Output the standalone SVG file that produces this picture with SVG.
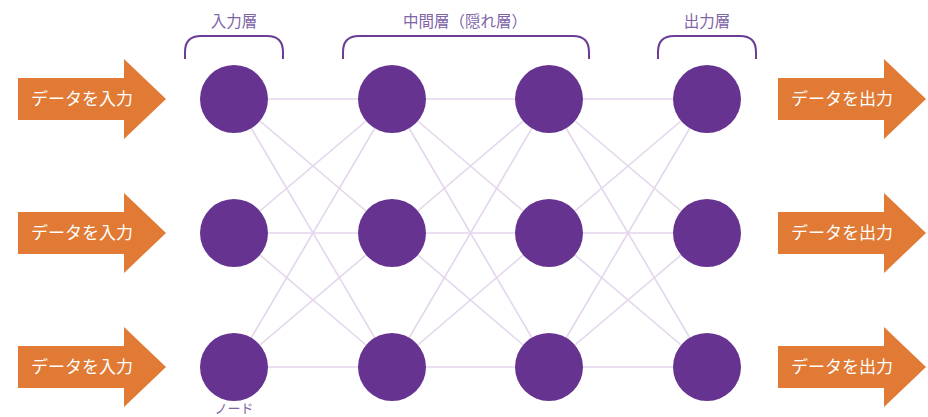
<svg xmlns="http://www.w3.org/2000/svg" width="928" height="417" viewBox="0 0 928 417">
<style>
.arrow{fill:#e07a35}
.atext{fill:#ffffff;font-family:"Noto Sans CJK JP","Noto Sans",sans-serif;font-size:17px;text-anchor:middle}
.node{fill:#663390}
.edge{stroke:#e4d6ec;stroke-width:1.6;fill:none}
.brk{stroke:#6b3d96;stroke-width:2;fill:none}
.lbl{fill:#8064a8;font-family:"Noto Sans CJK JP","Noto Sans",sans-serif;font-size:15.5px;text-anchor:middle}
.nlbl{fill:#8064a8;font-family:"Noto Sans CJK JP","Noto Sans",sans-serif;font-size:13px;text-anchor:middle}
</style>
<defs>
<path id="arr" d="M0,-21 H106 V-40 L148,0 L106,40 V21 H0 Z"/>
</defs>
<g id="connectors">
<g class="edge">
<line x1="234" y1="99" x2="392" y2="99"/><line x1="234" y1="99" x2="392" y2="233"/><line x1="234" y1="99" x2="392" y2="367"/>
<line x1="234" y1="233" x2="392" y2="99"/><line x1="234" y1="233" x2="392" y2="233"/><line x1="234" y1="233" x2="392" y2="367"/>
<line x1="234" y1="367" x2="392" y2="99"/><line x1="234" y1="367" x2="392" y2="233"/><line x1="234" y1="367" x2="392" y2="367"/>
<line x1="392" y1="99" x2="549" y2="99"/><line x1="392" y1="99" x2="549" y2="233"/><line x1="392" y1="99" x2="549" y2="367"/>
<line x1="392" y1="233" x2="549" y2="99"/><line x1="392" y1="233" x2="549" y2="233"/><line x1="392" y1="233" x2="549" y2="367"/>
<line x1="392" y1="367" x2="549" y2="99"/><line x1="392" y1="367" x2="549" y2="233"/><line x1="392" y1="367" x2="549" y2="367"/>
<line x1="549" y1="99" x2="707" y2="99"/><line x1="549" y1="99" x2="707" y2="233"/><line x1="549" y1="99" x2="707" y2="367"/>
<line x1="549" y1="233" x2="707" y2="99"/><line x1="549" y1="233" x2="707" y2="233"/><line x1="549" y1="233" x2="707" y2="367"/>
<line x1="549" y1="367" x2="707" y2="99"/><line x1="549" y1="367" x2="707" y2="233"/><line x1="549" y1="367" x2="707" y2="367"/>
</g>
</g>
<g id="in1"><use href="#arr" class="arrow" x="18" y="99"/><text class="atext" x="82" y="105">データを入力</text></g>
<g id="in2"><use href="#arr" class="arrow" x="18" y="233"/><text class="atext" x="82" y="239">データを入力</text></g>
<g id="in3"><use href="#arr" class="arrow" x="18" y="367"/><text class="atext" x="82" y="373">データを入力</text></g>
<g id="out1"><use href="#arr" class="arrow" x="778" y="99"/><text class="atext" x="842" y="105">データを出力</text></g>
<g id="out2"><use href="#arr" class="arrow" x="778" y="233"/><text class="atext" x="842" y="239">データを出力</text></g>
<g id="out3"><use href="#arr" class="arrow" x="778" y="367"/><text class="atext" x="842" y="373">データを出力</text></g>
<g id="n-in-1"><circle class="node" cx="234" cy="99" r="34"/></g>
<g id="n-in-2"><circle class="node" cx="234" cy="233" r="34"/></g>
<g id="n-in-3"><circle class="node" cx="234" cy="367" r="34"/><text class="nlbl" x="234" y="413">ノード</text></g>
<g id="n-h1-1"><circle class="node" cx="392" cy="99" r="34"/></g>
<g id="n-h1-2"><circle class="node" cx="392" cy="233" r="34"/></g>
<g id="n-h1-3"><circle class="node" cx="392" cy="367" r="34"/></g>
<g id="n-h2-1"><circle class="node" cx="549" cy="99" r="34"/></g>
<g id="n-h2-2"><circle class="node" cx="549" cy="233" r="34"/></g>
<g id="n-h2-3"><circle class="node" cx="549" cy="367" r="34"/></g>
<g id="n-out-1"><circle class="node" cx="707" cy="99" r="34"/></g>
<g id="n-out-2"><circle class="node" cx="707" cy="233" r="34"/></g>
<g id="n-out-3"><circle class="node" cx="707" cy="367" r="34"/></g>
<g id="layer-input"><path class="brk" d="M185,59 V52 Q185,36 201,36 H267 Q283,36 283,52 V59"/><text class="lbl" x="234" y="27">入力層</text></g>
<g id="layer-hidden"><path class="brk" d="M343,59 V52 Q343,36 359,36 H573 Q589,36 589,52 V59"/><text class="lbl" x="465" y="27">中間層（隠れ層）</text></g>
<g id="layer-output"><path class="brk" d="M658,59 V52 Q658,36 674,36 H740 Q756,36 756,52 V59"/><text class="lbl" x="707" y="27">出力層</text></g>
</svg>
